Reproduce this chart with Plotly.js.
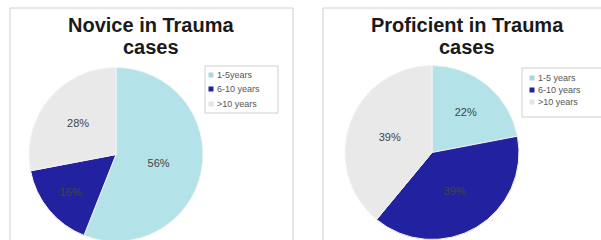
<!DOCTYPE html>
<html><head><meta charset="utf-8">
<script src="https://cdn.plot.ly/plotly-3.0.1.min.js"></script>
<style>html,body{margin:0;padding:0;overflow:hidden;background:#fff}#c{width:601px;height:260px}</style>
</head><body><div id="c"></div>
<script>
const labelsNovice = ["1-5years", "6-10 years", ">10 years"];
const valuesNovice = [56, 16, 28];
const labelsProf = ["1-5 years", "6-10 years", ">10 years"];
const valuesProf = [22, 39, 39];
const sliceColors = ["#b3e2e8", "#2222a0", "#e9e9e9"];
const legendMarkColors = ["#a8d8de", "#2222a0", "#e4e4e4"];
const titleNovice = ["Novice in Trauma", "cases"];
const titleProf = ["Proficient in Trauma", "cases"];

const W = 601, H = 260;
const px = v => v / W, py = v => (H - v) / H;

const common = {
  type: "pie", sort: false, direction: "clockwise", rotation: 0,
  textinfo: "percent", textposition: "inside", insidetextorientation: "horizontal",
  marker: {colors: sliceColors, line: {color: "#f4f4f4", width: 1}},
  textfont: {family: "Arial, Liberation Sans", size: 11, color: "#444"},
  hoverinfo: "none", showlegend: false
};
const data = [
  Object.assign({}, common, {labels: labelsNovice, values: valuesNovice,
    domain: {x: [px(29), px(203)], y: [py(242), py(67)]}}),
  Object.assign({}, common, {labels: labelsProf, values: valuesProf,
    domain: {x: [px(345), px(519)], y: [py(240), py(65)]}})
];

const shapes = [
  {type: "rect", xref: "paper", yref: "paper", x0: px(10), x1: px(293), y0: py(258), y1: py(8),
    line: {color: "#d0d0d0", width: 1}},
  {type: "rect", xref: "paper", yref: "paper", x0: px(323), x1: px(610), y0: py(258), y1: py(8),
    line: {color: "#d0d0d0", width: 1}}
];
const annotations = [];
function addTitle(lines, cx) {
  lines.forEach((t, i) => annotations.push({text: t, xref: "paper", yref: "paper", x: px(cx), y: py(25 + 22 * i),
    xanchor: "center", yanchor: "middle", showarrow: false,
    font: {family: "Arial, Liberation Sans", size: 20, color: "#1a1a1a", weight: "bold"}}));
}
addTitle(titleNovice, 151);
addTitle(titleProf, 467);

function addLegend(labels, box, markX, ys) {
  shapes.push({type: "rect", xref: "paper", yref: "paper", x0: px(box[0]), x1: px(box[1]),
    y0: py(box[3]), y1: py(box[2]), line: {color: "#cfcfcf", width: 1}, fillcolor: "#fff", layer: "below"});
  labels.forEach((lab, i) => {
    shapes.push({type: "rect", xref: "paper", yref: "paper", x0: px(markX - 2.5), x1: px(markX + 2.5),
      y0: py(ys[i] + 2.5), y1: py(ys[i] - 2.5), line: {width: 0}, fillcolor: legendMarkColors[i]});
    annotations.push({text: lab, xref: "paper", yref: "paper", x: px(markX + 4), y: py(ys[i]),
      xanchor: "left", yanchor: "middle", showarrow: false,
      font: {family: "Arial, Liberation Sans", size: 9, color: "#555"}});
  });
}
addLegend(labelsNovice, [205, 278, 66, 113], 211, [75, 89, 104]);
addLegend(labelsProf, [522, 612, 68, 117], 532, [78, 90, 102]);

const layout = {
  width: W, height: H, margin: {l: 0, r: 0, t: 0, b: 0},
  paper_bgcolor: "#fff", plot_bgcolor: "#fff", showlegend: false,
  shapes: shapes, annotations: annotations
};
Plotly.newPlot("c", data, layout, {staticPlot: true});
</script></body></html>
